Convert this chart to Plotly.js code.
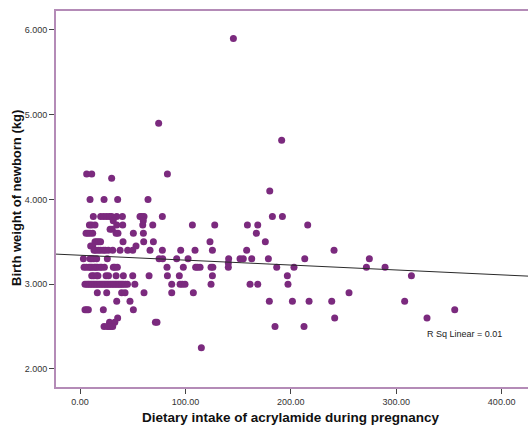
<!DOCTYPE html>
<html>
<head>
<meta charset="utf-8">
<script src="https://cdn.plot.ly/plotly-3.0.1.min.js"></script>
<style>
html,body{margin:0;padding:0;overflow:hidden;background:#fff;width:528px;height:425px;}
#chart{width:560px;height:425px;}
</style>
</head>
<body>
<div id="chart"></div>
<script>
// Birth weight levels (kg) and the acrylamide intake values of the points sitting on each level
const weightLevels = [5.9, 4.9, 4.7, 4.3, 4.25, 4.1, 4.0, 3.8, 3.75, 3.7, 3.65, 3.6, 3.5, 3.45, 3.4, 3.3, 3.25, 3.2, 3.1, 3.0, 2.9, 2.8, 2.7, 2.6, 2.55, 2.5, 2.25];
const intake_590 = [145.5];
const intake_490 = [74.6];
const intake_470 = [191.3];
const intake_430 = [6.3, 11.1, 82.9];
const intake_425 = [30];
const intake_410 = [180];
const intake_400 = [9.5, 22.8, 35.7, 64.5];
const intake_380 = [12.6, 19.6, 22.5, 25.3, 28, 30, 34.8, 40.2, 56.9, 58.5, 60.7, 78.1, 182.5, 192];
const intake_375 = [31.5, 60];
const intake_370 = [8.9, 11, 14.2, 34.8, 40.5, 59.5, 69, 106.6, 127.8, 158.8, 168.6, 216];
const intake_365 = [28.5, 30.5];
const intake_360 = [5.7, 7.5, 9.5, 12, 34.2, 36, 50.6, 60.1, 167.3];
const intake_350 = [14.2, 16, 17.7, 19.5, 40.8, 60.4, 69.6, 123.3, 175.8];
const intake_345 = [10.1, 12, 53.1];
const intake_340 = [13.3, 15, 17.4, 19.5, 22.1, 24, 26.9, 31, 38, 45.2, 50, 66.4, 78.1, 95.5, 109.1, 125.6, 158.1, 241];
const intake_330 = [3.2, 9.5, 11, 13, 15.8, 25.9, 75, 78.4, 91.7, 102.5, 141, 151.8, 154.9, 162.9, 178.7, 213.2, 274.5];
const intake_325 = [140.7];
const intake_320 = [3.8, 6, 8.5, 10, 11.5, 13.6, 15, 16.5, 19, 20.5, 23.1, 31.6, 33, 35.4, 82.5, 98, 109.7, 111.5, 113.9, 124.3, 126, 140.7, 186.6, 203, 271.7, 289.4];
const intake_310 = [11.1, 13, 15.8, 17, 24.7, 27, 34.2, 41.1, 50, 65.5, 82.9, 94.2, 125.6, 196.7, 314.4];
const intake_300 = [4.7, 6.5, 8, 9.5, 11, 12.5, 14, 15.5, 17, 18.5, 20, 21.5, 23, 24.5, 26, 27.5, 29, 30.5, 32, 33.5, 35, 36.5, 38, 39.5, 41, 43, 45, 52, 87, 94.9, 97, 99.6, 124.3, 161.3, 168.6, 197.3];
const intake_290 = [16.4, 25.3, 39.5, 42.7, 60.7, 87, 107.5, 255.2];
const intake_280 = [34.8, 47.4, 179.6, 201.5, 217.3, 238.8, 308];
const intake_270 = [4.7, 6.3, 7.9, 22.1, 50.6, 355.5];
const intake_260 = [35.7, 241.6, 329.2];
const intake_255 = [28, 33, 71.5, 73];
const intake_250 = [22.8, 25.9, 27.5, 29.1, 31, 185, 212.5];
const intake_225 = [115.1];
const intakeByLevel = [intake_590, intake_490, intake_470, intake_430, intake_425, intake_410, intake_400, intake_380, intake_375, intake_370, intake_365, intake_360, intake_350, intake_345, intake_340, intake_330, intake_325, intake_320, intake_310, intake_300, intake_290, intake_280, intake_270, intake_260, intake_255, intake_250, intake_225];

// Linear fit
const fitIntercept = 3.342;
const fitSlope = -0.00058;
const rSqLabel = "R Sq Linear = 0.01";

const xTicks = [0, 100, 200, 300, 400];
const yTicks = [2, 3, 4, 5, 6];

const xs = [], ys = [];
weightLevels.forEach((w, i) => {
  intakeByLevel[i].forEach(v => { xs.push(v); ys.push(w); });
});

const xRange = [-22.8, 436.4];
const yRange = [1.787, 6.224];
const fitX = [xRange[0], xRange[1]];
const fitY = fitX.map(v => fitIntercept + fitSlope * v);

const FONT = 'Arial, "Liberation Sans", sans-serif';
const frameColor = '#b48bb7';

const W = 560, H = 425, ML = 56, MR = 20, MT = 11, MB = 38;
const plotW = W - ML - MR, plotH = H - MT - MB;

const data = [
  {
    type: 'scatter', mode: 'markers', x: xs, y: ys,
    marker: {color: '#7b2a7e', size: 7, line: {width: 0}},
    hoverinfo: 'none', showlegend: false
  },
  {
    type: 'scatter', mode: 'lines', x: fitX, y: fitY,
    line: {color: '#2a2a2a', width: 1},
    hoverinfo: 'none', showlegend: false
  }
];

const layout = {
  width: W, height: H,
  margin: {l: ML, r: MR, t: MT, b: MB},
  paper_bgcolor: '#ffffff', plot_bgcolor: '#ffffff',
  font: {family: FONT, size: 9, color: '#333'},
  xaxis: {
    range: xRange, tickvals: xTicks, tickformat: '.2f',
    showgrid: false, zeroline: false,
    showline: true, linecolor: frameColor, linewidth: 2, mirror: true,
    ticks: 'outside', ticklen: 5, tickwidth: 1, tickcolor: '#444',
    tickfont: {family: FONT, size: 9, color: '#333'}
  },
  yaxis: {
    range: yRange, tickvals: yTicks, tickformat: '.3f',
    showgrid: false, zeroline: false,
    showline: true, linecolor: frameColor, linewidth: 2, mirror: true,
    ticks: 'outside', ticklen: 5, tickwidth: 1, tickcolor: '#444',
    tickfont: {family: FONT, size: 9, color: '#333'}
  },
  annotations: [
    {
      text: rSqLabel, x: 327.3, y: 2.414, xref: 'x', yref: 'y',
      xanchor: 'left', yanchor: 'middle', showarrow: false,
      font: {family: FONT, size: 9, color: '#222'}
    },
    {
      text: '<b>Dietary intake of acrylamide during pregnancy</b>',
      x: (290.5 - ML) / plotW, xref: 'paper',
      y: (MT + plotH - 408) / plotH, yref: 'paper',
      xanchor: 'center', yanchor: 'top', showarrow: false,
      font: {family: FONT, size: 13.5, color: '#111'}
    },
    {
      text: '<b>Birth weight of newborn (kg)</b>', textangle: -90,
      x: (16 - ML) / plotW, xref: 'paper',
      y: (MT + plotH - 198) / plotH, yref: 'paper',
      xanchor: 'center', yanchor: 'middle', showarrow: false,
      font: {family: FONT, size: 13, color: '#111'}
    }
  ]
};

Plotly.newPlot('chart', data, layout, {staticPlot: true, displayModeBar: false});
</script>
</body>
</html>
